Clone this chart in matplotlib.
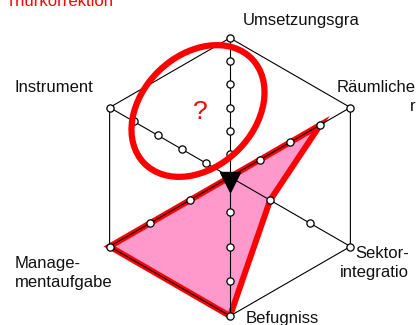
import numpy as np
import matplotlib
matplotlib.use("Agg")
import matplotlib.pyplot as plt
from matplotlib.patches import Ellipse

plt.rcParams['font.family'] = ['Liberation Sans', 'DejaVu Sans']

# axes of the radar, clockwise from the top
labels = ['Umsetzungsgra', 'Räumliche\nr', 'Sektor-\nintegratio',
          'Befugniss', 'Manage-\nmentaufgabe', 'Instrument']
angles = [90, 30, -30, -90, -150, 150]
max_levels = [6, 4, 3, 4, 3, 5]
values = [0, 3, 1, 4, 3, 0]
title = 'Thurkorrektion'

W, H = 420, 325
cx, cy, R = 230, 177, 139


def px(x, y):
    # pixel position in the image -> data coordinates
    return (x - cx) / R, (cy - y) / R


fig = plt.figure(figsize=(W / 100, H / 100), dpi=100)
ax = fig.add_axes([0, 0, 1, 1])
ax.set_xlim(-cx / R, (W - cx) / R)
ax.set_ylim(-(H - cy) / R, cy / R)
ax.set_aspect('equal')
ax.axis('off')

rad = np.deg2rad(angles)
ux, uy = np.cos(rad), np.sin(rad)

# data polygon
r = np.array(values) / np.array(max_levels)
px_, py_ = r * ux, r * uy
ax.fill(px_, py_, color='#ff99cc', zorder=1)
ax.plot(np.append(px_, px_[0]), np.append(py_, py_[0]), color='#ff0000',
        lw=4.3, solid_joinstyle='miter', zorder=2)

# hexagon frame and spokes
ax.plot(np.append(ux, ux[0]), np.append(uy, uy[0]), color='black', lw=0.8, zorder=3)
for i in range(len(labels)):
    ax.plot([0, ux[i]], [0, uy[i]], color='black', lw=0.8, zorder=3)
    lv = np.arange(1, max_levels[i] + 1) / max_levels[i]
    ax.plot(lv * ux[i], lv * uy[i], 'o', ms=5.2, mfc='white', mec='black',
            mew=0.9, zorder=4)

# center marker
ax.plot([0], [-0.035], 'v', ms=15, color='black', zorder=5)

# axis labels
fs = 12
ax.text(*px(243, 21), labels[0], fontsize=fs, ha='left', va='center', color='#111111')
ax.text(*px(416, 97), labels[1], fontsize=fs, ha='right', va='center',
        linespacing=1.35, color='#111111')
ax.text(*px(409, 263), labels[2], fontsize=fs, ha='right', va='center',
        linespacing=1.4, color='#111111')
ax.text(*px(246, 318), labels[3], fontsize=fs, ha='left', va='center', color='#111111')
ax.text(*px(15, 273), labels[4], fontsize=fs, ha='left', va='center',
        linespacing=1.4, color='#111111')
ax.text(*px(15, 87), labels[5], fontsize=fs, ha='left', va='center', color='#111111')

# title, cut at the top edge as in the original
ax.text(*px(6, 6), title, fontsize=12, color='#ff0000', ha='left', va='baseline')

# hand-drawn red ring with question mark
ax.add_patch(Ellipse(px(198, 111), 150 / R, 112 / R, angle=44, fill=False,
                     ec='#ff0000', lw=4.5, zorder=6))
ax.text(*px(200, 112), '?', fontsize=19, color='#ff0000', ha='center',
        va='center', zorder=6)

fig.savefig('out.png', dpi=100)
